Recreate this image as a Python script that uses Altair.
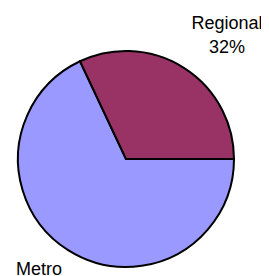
import math
import altair as alt
import pandas as pd

categories = ["Metro", "Regional"]
shares = [68, 32]
colors = ["#9999FF", "#993366"]

df = pd.DataFrame({"cat": categories, "share": shares, "idx": [0, 1]})

start = math.pi / 2
theta_scale = alt.Scale(range=[start, start + 2 * math.pi])

pie = alt.Chart(df).mark_arc(stroke="black", strokeWidth=2, outerRadius=108).encode(
    theta=alt.Theta("share:Q", stack=True, scale=theta_scale),
    color=alt.Color("cat:N", scale=alt.Scale(domain=categories, range=colors), legend=None),
    order=alt.Order("idx:Q"),
    x=alt.value(118),
    y=alt.value(151),
)

reg_label = alt.Chart(df).transform_filter(alt.datum.cat == "Regional").mark_text(
    font="Liberation Sans", fontSize=18, align="center", baseline="alphabetic", lineHeight=24, color="black"
).encode(
    text=alt.Text("lbl:N"),
    x=alt.value(219),
    y=alt.value(21),
).transform_calculate(lbl="[datum.cat, datum.share + '%']")

met_label = alt.Chart(df).transform_filter(alt.datum.cat == "Metro").mark_text(
    font="Liberation Sans", fontSize=18, align="center", baseline="alphabetic", lineHeight=24, color="black"
).encode(
    text=alt.Text("lbl:N"),
    x=alt.value(31),
    y=alt.value(267),
).transform_calculate(lbl="[datum.cat, datum.share + '%']")

chart = alt.layer(pie, reg_label, met_label).properties(
    width=253, height=268, padding=0, autosize=alt.AutoSizeParams(type="none")
).configure_view(stroke=None)

chart.save("out.html", embed_options={"renderer": "svg", "actions": False})
